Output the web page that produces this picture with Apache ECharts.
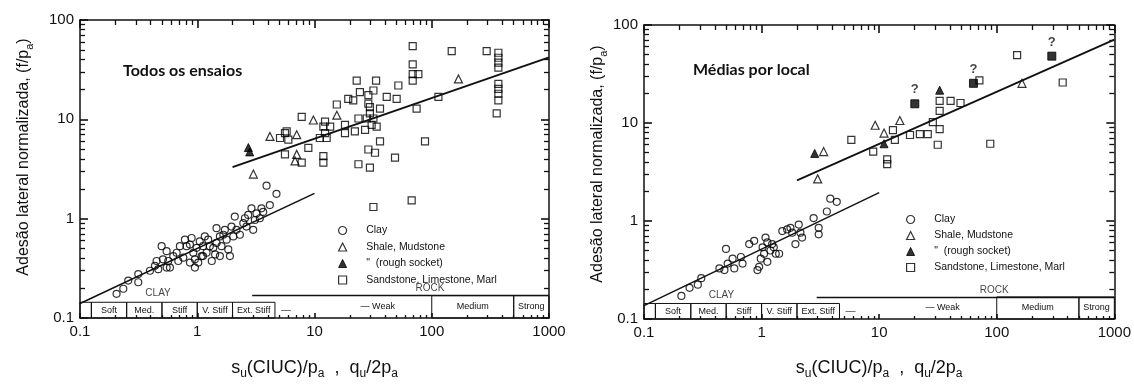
<!DOCTYPE html>
<html>
<head>
<meta charset="utf-8">
<script src="https://cdn.jsdelivr.net/npm/echarts@6/dist/echarts.min.js"></script>
<style>
  html, body { margin: 0; padding: 0; background: #fff; }
  #chart { width: 1134px; height: 385px; }
</style>
</head>
<body>
<div id="chart"></div>
<script>
// ---- data (x = su/pa, y = f/pa) ----
// left panel: "Todos os ensaios"
const clayAll = [
  [0.205,0.175],[0.234,0.197],[0.258,0.238],[0.314,0.277],[0.314,0.229],[0.395,0.299],
  [0.436,0.335],[0.45,0.375],[0.465,0.31],[0.497,0.528],[0.548,0.471],[0.566,0.375],
  [0.585,0.322],[0.624,0.42],[0.667,0.454],[0.689,0.375],[0.785,0.615],[0.811,0.528],
  [0.866,0.549],[0.925,0.454],[0.955,0.322],[0.955,0.39],[0.987,0.509],[1.05,0.592],
  [1.09,0.42],[1.12,0.528],[1.16,0.663],[1.2,0.454],[1.24,0.615],[1.28,0.528],
  [1.33,0.375],[1.37,0.509],[1.46,0.802],[1.46,0.57],[1.56,0.42],[1.61,0.528],
  [1.67,0.689],[1.72,0.772],[1.78,0.615],[1.84,0.49],[1.9,0.42],[1.96,0.833],
  [2.03,0.663],[2.09,1.05],[2.16,0.772],[2.31,0.689],[2.47,0.9],[2.55,1.01],
  [2.72,1.09],[2.9,1.27],[3.0,0.772],[3.1,0.97],[3.2,1.13],[3.42,1.01],[3.53,1.27],
  [3.65,1.17],[4.16,1.37],[3.9,2.15],[4.74,1.78],[0.895,0.639],[1.02,0.361],
  [1.42,0.437],[0.711,0.528],[0.76,0.405],[0.548,0.322],[0.51,0.39],[0.866,0.361],
  [1.12,0.42],[1.56,0.663],[2.63,0.833]
];
const shaleAll = [
  [4.17,6.73],[7.05,7.0],[9.78,9.85],[15.5,11.0],[169,25.5],[7.05,4.44],[6.82,3.81],[3.01,2.81]
];
const roughAll = [[2.73,5.2],[2.8,4.7]];
const sandAll = [
  [68.8,54.5],[148,48.6],[294,48.6],[370,46.8],[370,41.7],[370,37.2],[370,33.2],
  [68.8,35.8],[68.8,28.5],[76.9,28.5],[68.8,24.5],[22.9,24.5],[33.5,24.5],[51.9,21.9],
  [24.4,18.8],[31.8,19.5],[41.3,16.8],[50.2,16.1],[19.4,16.1],[21.4,15.5],[15.5,14.1],
  [28.8,14.4],[36.2,12.8],[29.7,11.5],[74.3,12.8],[114,16.8],[370,22.7],[370,20.3],
  [370,18.1],[370,15.5],[358,11.5],[7.78,10.6],[12.3,9.48],[11.9,8.46],[13.6,8.46],
  [18.2,8.79],[23.7,10.2],[27.9,10.2],[31.8,10.2],[30.7,8.79],[33.9,8.46],[27.0,7.84],
  [22.1,7.55],[18.2,7.27],[12.3,7.27],[11.1,6.49],[12.7,6.49],[5.79,7.55],[5.08,6.49],
  [5.98,6.24],[5.6,7.27],[8.86,5.16],[5.6,4.44],[7.78,3.67],[11.9,4.27],[11.9,3.67],
  [23.7,3.53],[29.7,3.27],[28.8,4.97],[32.8,4.61],[36.2,6.01],[48.6,4.11],[87.6,6.01],
  [67.4,1.53],[31.8,1.31],[28.8,17.5],[29.7,13.3]
];
const clayFitAll = [[0.1,0.14],[10,1.8]];
const rockFitAll = [[2,3.3],[1000,42]];

// right panel: "Médias por local"
const clayMean = [
  [0.208,0.172],[0.244,0.208],[0.287,0.224],[0.307,0.261],[0.438,0.328],[0.483,0.316],
  [0.498,0.519],[0.515,0.368],[0.567,0.413],[0.586,0.328],[0.667,0.429],[0.689,0.368],
  [0.785,0.582],[0.865,0.628],[0.922,0.316],[0.953,0.341],[0.984,0.413],[1.02,0.539],
  [1.05,0.463],[1.08,0.678],[1.12,0.604],[1.12,0.383],[1.19,0.5],[1.23,0.582],
  [1.27,0.539],[1.32,0.463],[1.41,0.463],[1.5,0.789],[1.65,0.82],[1.76,0.852],
  [1.82,0.76],[1.94,0.582],[2.07,0.92],[2.14,0.76],[2.21,0.678],[2.77,1.07],
  [3.06,0.852],[3.06,0.731],[3.59,1.25],[3.84,1.69],[4.36,1.57]
];
const shaleMean = [[3.37,5.11],[3.0,2.69],[9.25,9.48],[15.0,10.6],[11.0,7.89],[164,25.4]];
const roughMean = [[32.7,21.6],[2.83,4.89],[11.0,6.14]];
const sandMean = [
  [5.8,6.73],[8.9,5.11],[13.1,8.46],[13.6,6.73],[18.3,7.54],[22.2,7.71],[25.9,7.71],
  [28.6,10.2],[32.7,8.65],[31.5,6.0],[32.7,16.8],[40.5,16.8],[49.2,16.0],[71.2,27.2],
  [88.1,6.14],[149,49.2],[364,25.9],[11.7,4.26],[11.7,3.8],[32.7,13.3]
];
const sandMeanUncertain = [[20.1,15.7],[63.4,25.4],[294,48.1]];
const clayFitMean = [[0.1,0.137],[10,1.95]];
const rockFitMean = [[2,2.6],[1000,71]];

// strength classes drawn along the bottom of each panel
const clayClasses = ['', 'Soft', 'Med.', 'Stiff', 'V. Stiff', 'Ext. Stiff'];
const clayBounds = [0.1, 0.125, 0.25, 0.5, 1, 2, 4.6];
const rockClasses = ['Medium', 'Strong'];
const rockBounds = [100, 500, 1000];

const legendNames = ['Clay', 'Shale, Mudstone', '"  (rough socket)', 'Sandstone, Limestone, Marl'];

const FONT = 'Liberation Sans';
const open = { color: 'rgba(0,0,0,0)', borderColor: '#000', borderWidth: 1.2 };
const solid = { color: '#000', borderColor: '#000', borderWidth: 1 };

function xAxisFor(grid, top) {
  return {
    type: 'log', logBase: 10, min: 0.1, max: 1000, gridIndex: grid,
    position: top ? 'top' : 'bottom',
    axisLine: { show: true, onZero: false, lineStyle: { color: '#111', width: 1.5 } },
    axisTick: { show: true, inside: true, length: top ? 8 : 5, lineStyle: { color: '#111', width: 1.6 } },
    minorTick: { show: true, splitNumber: 9, length: top ? 5 : 3, lineStyle: { color: '#111', width: 1.3 } },
    splitLine: { show: false },
    axisLabel: {
      show: !top, margin: 6, color: '#111', fontSize: 15, fontFamily: FONT,
      formatter: v => (v < 1 ? '0.1' : String(Math.round(v)))
    }
  };
}
function yAxisFor(grid, right) {
  return {
    type: 'log', logBase: 10, min: 0.1, max: 100, gridIndex: grid,
    position: right ? 'right' : 'left',
    axisLine: { show: true, onZero: false, lineStyle: { color: '#111', width: 1.5 } },
    axisTick: { show: true, inside: true, length: 8, lineStyle: { color: '#111', width: 1.6 } },
    minorTick: { show: true, splitNumber: 9, length: 5, lineStyle: { color: '#111', width: 1.3 } },
    splitLine: { show: false },
    axisLabel: {
      show: !right, margin: 6, color: '#111', fontSize: 15, fontFamily: FONT,
      formatter: v => (v < 1 ? '0.1' : String(Math.round(v)))
    }
  };
}

const xName = '{m|s}{s|u}{m|(CIUC)/p}{s|a}{m|  ,  q}{s|u}{m|/2p}{s|a}';
const yName = '{m|Adesão lateral normalizada, (f/p}{s|a}{m|)}';
const xRich = {
  m: { fontSize: 18, fontFamily: FONT, color: '#111', lineHeight: 24, verticalAlign: 'bottom' },
  s: { fontSize: 12, fontFamily: FONT, color: '#111', lineHeight: 24, verticalAlign: 'bottom', padding: [0, 0, -3, 0] }
};
const yRich = {
  m: { fontSize: 16, fontFamily: FONT, color: '#111', lineHeight: 22, verticalAlign: 'bottom' },
  s: { fontSize: 11, fontFamily: FONT, color: '#111', lineHeight: 22, verticalAlign: 'bottom', padding: [0, 0, -3, 0] }
};

function bandSeries(xi, yi) {
  const areas = [];
  for (let i = 0; i < clayClasses.length; i++) {
    areas.push([{ name: clayClasses[i], coord: [clayBounds[i], 0.1] }, { coord: [clayBounds[i + 1], 0.144] }]);
  }
  for (let i = 0; i < rockClasses.length; i++) {
    areas.push([{ name: rockClasses[i], coord: [rockBounds[i], 0.1] }, { coord: [rockBounds[i + 1], 0.168] }]);
  }
  areas.push([{ name: '— Weak', coord: [12, 0.1], itemStyle: { borderWidth: 0 } }, { coord: [100, 0.168] }]);
  return {
    type: 'scatter', xAxisIndex: xi, yAxisIndex: yi, data: [], silent: true,
    markArea: {
      silent: true,
      itemStyle: { color: 'rgba(0,0,0,0)', borderColor: '#111', borderWidth: 1 },
      label: { position: 'inside', fontSize: 9, fontFamily: FONT, color: '#111' },
      data: areas
    },
    markLine: {
      silent: true, symbol: 'none',
      lineStyle: { color: '#111', width: 1.3, type: 'solid' },
      label: { show: false },
      data: [[{ coord: [2.94, 0.168] }, { coord: [1000, 0.168] }]]
    }
  };
}
function textSeries(xi, yi, clayPos, rockPos) {
  return {
    type: 'scatter', xAxisIndex: xi, yAxisIndex: yi, symbolSize: 0, silent: true,
    label: { show: true, position: 'inside', formatter: '{b}', fontSize: 10, fontFamily: FONT, color: '#111' },
    data: [
      { name: 'CLAY', value: clayPos },
      { name: 'ROCK', value: rockPos },
      { name: '—', value: [5.7, 0.121] }
    ]
  };
}
function pts(name, data, xi, yi, symbol, size, style) {
  return { name, type: 'scatter', xAxisIndex: xi, yAxisIndex: yi, data, symbol, symbolSize: size, itemStyle: style, z: 3 };
}
function fit(data, xi, yi, w) {
  return { type: 'line', xAxisIndex: xi, yAxisIndex: yi, data, showSymbol: false, silent: true,
    lineStyle: { color: '#111', width: w }, z: 4 };
}
function legendFor(left, top, gap) {
  return {
    orient: 'vertical', left, top, itemWidth: 8, itemHeight: 8, itemGap: gap,
    selectedMode: false,
    textStyle: { fontSize: 10.5, fontFamily: FONT, color: '#111' },
    formatter: n => '     ' + n,
    data: [
      { name: legendNames[0], icon: 'circle', itemStyle: open },
      { name: legendNames[1], icon: 'triangle', itemStyle: open },
      { name: legendNames[2], icon: 'triangle', itemStyle: solid },
      { name: legendNames[3], icon: 'rect', itemStyle: open }
    ]
  };
}

const chart = echarts.init(document.getElementById('chart'), null, { renderer: 'canvas' });
const xs = [xAxisFor(0, false), xAxisFor(0, true), xAxisFor(1, false), xAxisFor(1, true)];
const ys = [yAxisFor(0, false), yAxisFor(0, true), yAxisFor(1, false), yAxisFor(1, true)];
xs[0].name = xName; xs[0].nameLocation = 'middle'; xs[0].nameGap = 35;
xs[0].nameTextStyle = { rich: xRich };
xs[2].name = xName; xs[2].nameLocation = 'middle'; xs[2].nameGap = 34;
xs[2].nameTextStyle = { rich: xRich };
ys[0].name = yName; ys[0].nameLocation = 'middle'; ys[0].nameGap = 48;
ys[0].nameTextStyle = { rich: yRich, padding: [0, 0, 0, 24] };
ys[2].name = yName; ys[2].nameLocation = 'middle'; ys[2].nameGap = 36;
ys[2].nameTextStyle = { rich: yRich, padding: [0, 0, 0, 16] };

chart.setOption({
  animation: false,
  backgroundColor: '#fff',
  title: [
    { text: 'Todos os ensaios', left: 118, top: 58,
      textStyle: { fontFamily: 'Lato', fontWeight: 'bold', fontSize: 16, color: '#111' } },
    { text: 'Médias por local', left: 688, top: 57,
      textStyle: { fontFamily: 'Lato', fontWeight: 'bold', fontSize: 16, color: '#111' } }
  ],
  legend: [legendFor(333, 220, 5.5), legendFor(901, 209, 5)],
  grid: [
    { left: 80, top: 20, width: 469, height: 303 },
    { left: 644, top: 25, width: 474, height: 302 }
  ],
  xAxis: xs,
  yAxis: ys,
  series: [
    bandSeries(0, 0),
    textSeries(0, 0, [0.463, 0.177], [96.6, 0.198]),
    fit(clayFitAll, 0, 0, 1.5),
    fit(rockFitAll, 0, 0, 2),
    pts(legendNames[0], clayAll, 0, 0, 'circle', 7, open),
    pts(legendNames[1], shaleAll, 0, 0, 'triangle', 8, open),
    pts(legendNames[2], roughAll, 0, 0, 'triangle', 8, solid),
    pts(legendNames[3], sandAll, 0, 0, 'rect', 7, open),

    bandSeries(2, 2),
    textSeries(2, 2, [0.455, 0.173], [95, 0.198]),
    fit(clayFitMean, 2, 2, 1.5),
    fit(rockFitMean, 2, 2, 1.8),
    pts(legendNames[0], clayMean, 2, 2, 'circle', 7, open),
    pts(legendNames[1], shaleMean, 2, 2, 'triangle', 8, open),
    pts(legendNames[2], roughMean, 2, 2, 'triangle', 8, solid),
    pts(legendNames[3], sandMean, 2, 2, 'rect', 7, open),
    {
      name: 'uncertain', type: 'scatter', xAxisIndex: 2, yAxisIndex: 2, data: sandMeanUncertain,
      symbol: 'rect', symbolSize: 8, itemStyle: solid, z: 3,
      label: { show: true, position: 'top', distance: 3, formatter: '?', fontSize: 13,
        fontWeight: 'bold', fontFamily: FONT, color: '#111' }
    }
  ]
});
</script>
</body>
</html>
